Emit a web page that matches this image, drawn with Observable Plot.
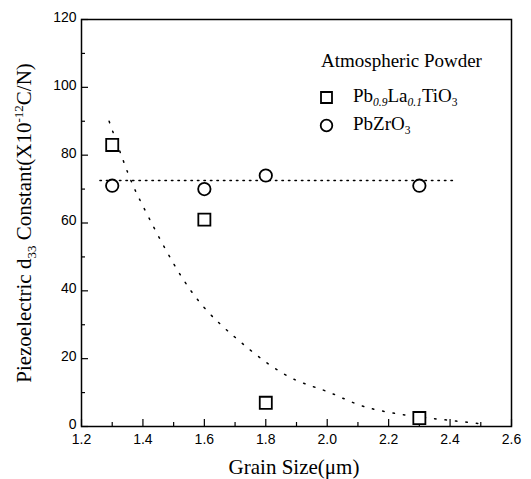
<!DOCTYPE html>
<html><head><meta charset="utf-8">
<script src="https://cdn.jsdelivr.net/npm/d3@7"></script>
<script src="https://cdn.jsdelivr.net/npm/@observablehq/plot@0.6"></script>
<style>body{margin:0;background:#fff} #chart{width:531px;height:479px}</style>
</head><body><div id="chart"></div>
<script>
// Data
const grainSize = [1.3, 1.6, 1.8, 2.3];
const pltD33 = [83, 61, 7, 2.5];      // Pb0.9La0.1TiO3 (squares)
const pzD33 = [71, 70, 74, 71];       // PbZrO3 (circles)
const fitX = [1.29, 1.35, 1.4, 1.5, 1.6, 1.7, 1.8, 1.9, 2.0, 2.1, 2.2, 2.3, 2.4, 2.5];
const fitY = [90, 75, 65, 48, 35, 26.3, 19, 13.6, 10.3, 6.5, 4.2, 2.8, 1.8, 0.8];
const flatX = [1.26, 2.41];
const flatY = [72.5, 72.5];
const xTicks = [1.2, 1.4, 1.6, 1.8, 2.0, 2.2, 2.4, 2.6];
const xMinor = [1.3, 1.5, 1.7, 1.9, 2.1, 2.3, 2.5];
const yTicks = [0, 20, 40, 60, 80, 100, 120];
const yMinor = [10, 30, 50, 70, 90, 110];

const W = 531, H = 479, mL = 81, mR = 20, mT = 19, mB = 53;
const pw = W - mL - mR, ph = H - mT - mB;
const sans = "Liberation Sans, Arial, sans-serif";
const serif = "Liberation Serif, Times New Roman, serif";

const sq = grainSize.map((x, i) => ({x, y: pltD33[i]}));
const ci = grainSize.map((x, i) => ({x, y: pzD33[i]}));
const fit = fitX.map((x, i) => ({x, y: fitY[i]}));
const flat = flatX.map((x, i) => ({x, y: flatY[i]}));

const plot = Plot.plot({
  width: W, height: H,
  marginLeft: mL, marginRight: mR, marginTop: mT, marginBottom: mB,
  style: {background: "#fff", color: "#000", fontFamily: sans},
  x: {domain: [1.2, 2.6]},
  y: {domain: [0, 120]},
  marks: [
    Plot.axisX({ticks: xTicks, tickSize: 0, tickPadding: 8, tickFormat: d3.format(".1f"), fontSize: 14, label: null}),
    Plot.axisY({ticks: yTicks, tickSize: 0, tickPadding: 5, fontSize: 14, label: null, dy: -2}),
    Plot.ruleX(xTicks, {x: d => d, insetTop: ph - 7, stroke: "#000", strokeWidth: 1.2}),
    Plot.ruleX(xMinor, {x: d => d, insetTop: ph - 4, stroke: "#000", strokeWidth: 1.2}),
    Plot.ruleY(yTicks, {y: d => d, insetRight: pw - 7, stroke: "#000", strokeWidth: 1.2}),
    Plot.ruleY(yMinor, {y: d => d, insetRight: pw - 4, stroke: "#000", strokeWidth: 1.2}),
    Plot.line(flat, {x: "x", y: "y", stroke: "#000", strokeWidth: 1.5, strokeDasharray: "1.5 5"}),
    Plot.line(fit, {x: "x", y: "y", curve: "natural", stroke: "#000", strokeWidth: 1.5, strokeDasharray: "1.5 9"}),
    Plot.dot(sq, {x: "x", y: "y", symbol: "square", r: 6.8, stroke: "#000", strokeWidth: 1.8, fill: "#fff"}),
    Plot.dot(ci, {x: "x", y: "y", symbol: "circle", r: 6.2, stroke: "#000", strokeWidth: 1.8, fill: "#fff"}),
    Plot.dot([0], {frameAnchor: "top-left", dx: 326 - mL, dy: 97 - mT, symbol: "square", r: 6.2, stroke: "#000", strokeWidth: 1.8, fill: "#fff"}),
    Plot.dot([0], {frameAnchor: "top-left", dx: 326 - mL, dy: 125 - mT, symbol: "circle", r: 5.8, stroke: "#000", strokeWidth: 1.8, fill: "#fff"}),
    Plot.frame({stroke: "#000", strokeWidth: 1.5})
  ]
});

const svg = d3.select(plot);
function rich(parent, parts) {
  for (const [t, shift, size, italic] of parts) {
    const ts = parent.append("tspan").text(t);
    if (size) ts.attr("font-size", size);
    if (shift) ts.attr("dy", shift);
    if (italic) ts.attr("font-style", "italic");
  }
}
// x axis title
svg.append("text").attr("x", 294).attr("y", 474).attr("text-anchor", "middle")
  .attr("font-family", serif).attr("font-size", 21).attr("fill", "#000")
  .text("Grain Size(μm)");
// y axis title
const yt = svg.append("text").attr("transform", "translate(31,223) rotate(-90)")
  .attr("text-anchor", "middle").attr("font-family", serif).attr("font-size", 21).attr("fill", "#000");
rich(yt, [["Piezoelectric d"], ["33", 5, 13], [" Constant(X10", -5], ["-12", -8, 13], ["C/N)", 8]]);
// legend
svg.append("text").attr("x", 321).attr("y", 67).attr("text-anchor", "start").attr("font-family", serif).attr("font-size", 19).attr("fill", "#000")
  .text("Atmospheric Powder");
const l1 = svg.append("text").attr("x", 353).attr("y", 102).attr("text-anchor", "start").attr("font-family", serif).attr("font-size", 19).attr("fill", "#000");
rich(l1, [["Pb"], ["0.9", 4, 11.5, true], ["La", -4], ["0.1", 4, 11.5, true], ["TiO", -4], ["3", 4, 11.5]]);
const l2 = svg.append("text").attr("x", 353).attr("y", 130).attr("text-anchor", "start").attr("font-family", serif).attr("font-size", 19).attr("fill", "#000");
rich(l2, [["PbZrO"], ["3", 4, 11.5]]);

document.getElementById("chart").append(plot);
</script>
</body></html>
